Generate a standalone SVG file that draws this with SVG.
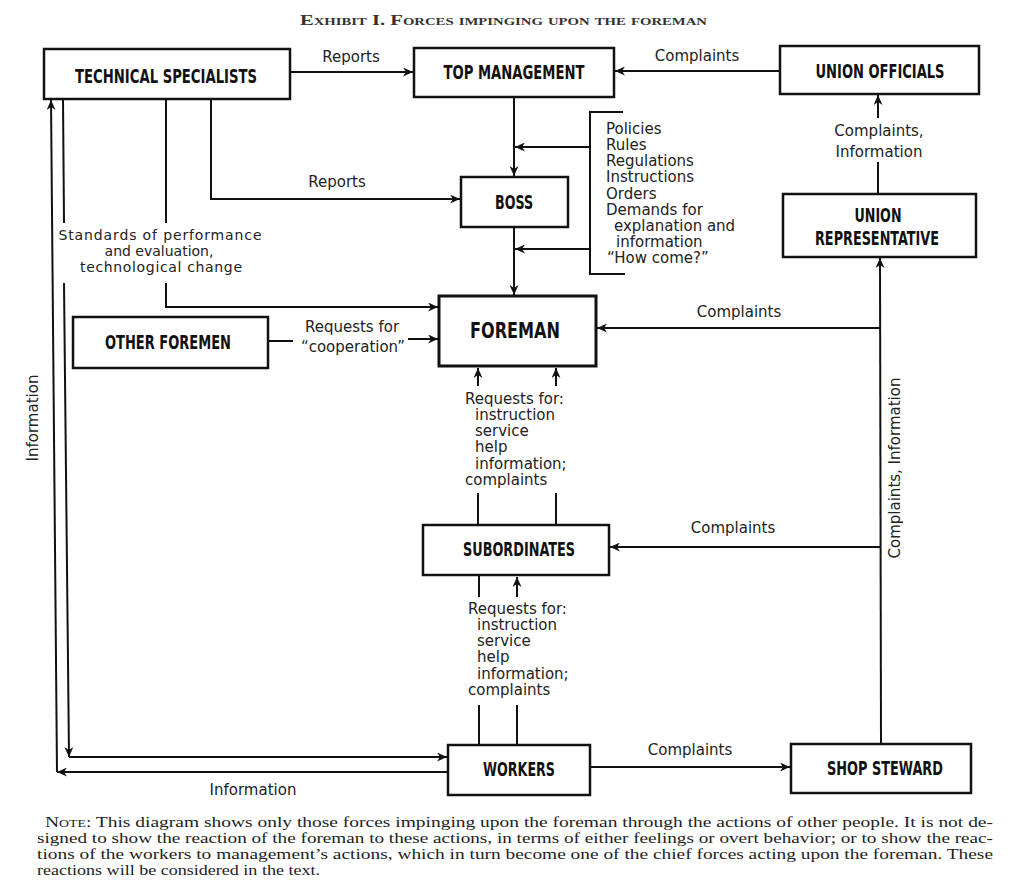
<svg xmlns="http://www.w3.org/2000/svg" width="1024" height="890" viewBox="0 0 1024 890">
<style>
.box{fill:#fff;stroke:#111;stroke-width:2.5}
.ln{fill:none;stroke:#111;stroke-width:2}
.nl{font-family:"DejaVu Sans Condensed","Liberation Sans Narrow","DejaVu Sans",sans-serif;font-stretch:condensed;font-weight:bold;font-size:19px;fill:#111;text-anchor:middle}
.lb{font-family:"DejaVu Sans","Liberation Sans",sans-serif;font-size:15px;fill:#222}
.sm{font-size:14px}
.mid{text-anchor:middle}
.note{font-family:"Liberation Serif","DejaVu Serif",serif;font-size:15.5px;fill:#222}
</style>
<defs>
<marker id="ar" markerUnits="userSpaceOnUse" markerWidth="11" markerHeight="9" refX="10" refY="4.5" orient="auto">
<path d="M0,0 L10,4.5 L0,9 L3,4.5 z" fill="#111"/>
</marker>
</defs>
<rect width="1024" height="890" fill="#fff"/>
<text x="300" y="25" font-family="Liberation Serif, serif" font-size="14" font-weight="bold" font-variant="small-caps" fill="#333" textLength="407" lengthAdjust="spacingAndGlyphs">Exhibit I.  Forces impinging upon the foreman</text>

<g id="connectors">
<path class="ln" d="M290,72 L413,72" marker-end="url(#ar)"/>
<path class="ln" d="M780,71 L615,71" marker-end="url(#ar)"/>
<path class="ln" d="M514,97 L514,176" marker-end="url(#ar)"/>
<path class="ln" d="M623,112 L590,112 L590,274 L625,274"/>
<path class="ln" d="M590,147 L515,147" marker-end="url(#ar)"/>
<path class="ln" d="M590,249 L515,249" marker-end="url(#ar)"/>
<path class="ln" d="M514,227 L514,295" marker-end="url(#ar)"/>
<path class="ln" d="M211,99 L211,199 L460,199" marker-end="url(#ar)"/>
<path class="ln" d="M166,99 L166,223"/>
<path class="ln" d="M166,283 L166,307 L438,307" marker-end="url(#ar)"/>
<path class="ln" d="M268,341 L293,341"/>
<path class="ln" d="M408,339 L438,339" marker-end="url(#ar)"/>
<path class="ln" d="M63,99 L64,223"/>
<path class="ln" d="M64,283 L69,757" marker-end="url(#ar)"/>
<path class="ln" d="M69,757 L447,757" marker-end="url(#ar)"/>
<path class="ln" d="M448,772 L57,772" marker-end="url(#ar)"/>
<path class="ln" d="M57,772 L51,100" marker-end="url(#ar)"/>
<path class="ln" d="M478,386 L478,368" marker-end="url(#ar)"/>
<path class="ln" d="M556,386 L556,368" marker-end="url(#ar)"/>
<path class="ln" d="M478,493 L478,525"/>
<path class="ln" d="M556,493 L556,525"/>
<path class="ln" d="M479,576 L479,597"/>
<path class="ln" d="M517,597 L517,577" marker-end="url(#ar)"/>
<path class="ln" d="M479,705 L479,745"/>
<path class="ln" d="M517,705 L517,745"/>
<path class="ln" d="M590,767 L790,767" marker-end="url(#ar)"/>
<path class="ln" d="M881,744 L880,258" marker-end="url(#ar)"/>
<path class="ln" d="M880,328 L597,328" marker-end="url(#ar)"/>
<path class="ln" d="M881,547 L610,547" marker-end="url(#ar)"/>
<path class="ln" d="M878,194 L878,162"/>
<path class="ln" d="M878,118 L878,95" marker-end="url(#ar)"/>
</g>

<g id="connector-labels">
<text class="lb mid" x="351" y="62">Reports</text>
<text class="lb mid" x="697" y="61">Complaints</text>
<text class="lb mid" x="337" y="187">Reports</text>
<text class="lb" x="606" y="134">Policies</text>
<text class="lb" x="606" y="150">Rules</text>
<text class="lb" x="606" y="166">Regulations</text>
<text class="lb" x="606" y="182">Instructions</text>
<text class="lb" x="606" y="199">Orders</text>
<text class="lb" x="606" y="215">Demands for</text>
<text class="lb" x="614" y="231">explanation and</text>
<text class="lb" x="616" y="247">information</text>
<text class="lb" x="607" y="263">“How come?”</text>
<text class="lb sm mid" x="160" y="240" textLength="203" lengthAdjust="spacing">Standards of performance</text>
<text class="lb sm mid" x="159" y="256">and evaluation,</text>
<text class="lb sm mid" x="161" y="272" textLength="162" lengthAdjust="spacing">technological change</text>
<text class="lb mid" x="352" y="332">Requests for</text>
<text class="lb mid" x="353" y="352">“cooperation”</text>
<text class="lb" x="465" y="404">Requests for:</text>
<text class="lb" x="475" y="420">instruction</text>
<text class="lb" x="475" y="436">service</text>
<text class="lb" x="475" y="452">help</text>
<text class="lb" x="475" y="469">information;</text>
<text class="lb" x="465" y="485">complaints</text>
<text class="lb" x="468" y="614">Requests for:</text>
<text class="lb" x="477" y="630">instruction</text>
<text class="lb" x="477" y="646">service</text>
<text class="lb" x="477" y="662">help</text>
<text class="lb" x="477" y="679">information;</text>
<text class="lb" x="468" y="695">complaints</text>
<text class="lb mid" x="739" y="317">Complaints</text>
<text class="lb mid" x="733" y="533">Complaints</text>
<text class="lb mid" x="690" y="755">Complaints</text>
<text class="lb mid" x="253" y="795">Information</text>
<text class="lb mid" x="879" y="136">Complaints,</text>
<text class="lb mid" x="879" y="157">Information</text>
<text class="lb mid" transform="translate(38,418) rotate(-90)">Information</text>
<text class="lb mid" transform="translate(900,468) rotate(-90)">Complaints,  Information</text>
</g>

<g id="technical-specialists">
<rect class="box" x="44" y="49" width="246" height="50"/>
<text class="nl" x="166" y="83" textLength="182" lengthAdjust="spacingAndGlyphs">TECHNICAL SPECIALISTS</text>
</g>
<g id="top-management">
<rect class="box" x="414" y="48" width="200" height="49"/>
<text class="nl" x="514" y="79" textLength="141" lengthAdjust="spacingAndGlyphs">TOP MANAGEMENT</text>
</g>
<g id="union-officials">
<rect class="box" x="780" y="46" width="199" height="48"/>
<text class="nl" x="880" y="78" textLength="129" lengthAdjust="spacingAndGlyphs">UNION OFFICIALS</text>
</g>
<g id="union-representative">
<rect class="box" x="783" y="194" width="193" height="63"/>
<text class="nl" x="878" y="222" textLength="47" lengthAdjust="spacingAndGlyphs">UNION</text>
<text class="nl" x="877" y="245" textLength="124" lengthAdjust="spacingAndGlyphs">REPRESENTATIVE</text>
</g>
<g id="boss">
<rect class="box" x="461" y="177" width="107" height="50"/>
<text class="nl" x="514" y="209" textLength="38" lengthAdjust="spacingAndGlyphs">BOSS</text>
</g>
<g id="foreman">
<rect class="box" x="439" y="296" width="157" height="70" style="stroke-width:3"/>
<text class="nl" x="515" y="338" textLength="90" lengthAdjust="spacingAndGlyphs" style="font-size:21px">FOREMAN</text>
</g>
<g id="other-foremen">
<rect class="box" x="73" y="317" width="195" height="51"/>
<text class="nl" x="168" y="349" textLength="126" lengthAdjust="spacingAndGlyphs">OTHER FOREMEN</text>
</g>
<g id="subordinates">
<rect class="box" x="423" y="525" width="186" height="50"/>
<text class="nl" x="519" y="556" textLength="112" lengthAdjust="spacingAndGlyphs">SUBORDINATES</text>
</g>
<g id="workers">
<rect class="box" x="448" y="745" width="142" height="50"/>
<text class="nl" x="519" y="776" textLength="72" lengthAdjust="spacingAndGlyphs">WORKERS</text>
</g>
<g id="shop-steward">
<rect class="box" x="791" y="744" width="180" height="49"/>
<text class="nl" x="885" y="775" textLength="116" lengthAdjust="spacingAndGlyphs">SHOP STEWARD</text>
</g>

<g id="note">
<text class="note" x="45" y="827" textLength="948" lengthAdjust="spacingAndGlyphs"><tspan font-variant="small-caps">Note</tspan>: This diagram shows only those forces impinging upon the foreman through the actions of other people.  It is not de-</text>
<text class="note" x="37" y="843" textLength="956" lengthAdjust="spacingAndGlyphs">signed to show the reaction of the foreman to these actions, in terms of either feelings or overt behavior; or to show the reac-</text>
<text class="note" x="37" y="859" textLength="956" lengthAdjust="spacingAndGlyphs">tions of the workers to management’s actions, which in turn become one of the chief forces acting upon the foreman.  These</text>
<text class="note" x="37" y="875" textLength="283" lengthAdjust="spacingAndGlyphs">reactions will be considered in the text.</text>
</g>
</svg>
